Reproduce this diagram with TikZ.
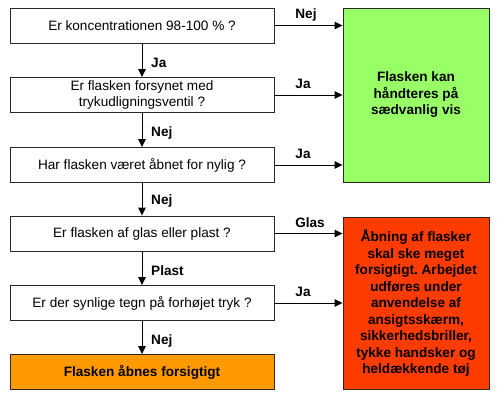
\documentclass[tikz,border=0pt]{standalone}
\usepackage{fontspec}
\setmainfont{Liberation Sans}
\usetikzlibrary{arrows.meta}
\definecolor{boxgreen}{RGB}{153,255,102}
\definecolor{boxred}{RGB}{255,60,0}
\definecolor{boxorange}{RGB}{255,153,0}
\definecolor{edge}{RGB}{40,40,40}
\frenchspacing
\begin{document}
\begin{tikzpicture}[x=1pt,y=-1pt,
  every node/.style={font=\fontsize{13.6}{16.5}\selectfont},
  qbox/.style={draw=edge, line width=0.9pt, fill=white, minimum width=264pt, minimum height=35pt, inner sep=0pt, align=center},
  rbox/.style={draw=edge, line width=0.9pt, minimum width=146pt, inner sep=0pt, align=center, font=\fontsize{13.6}{16.5}\selectfont\bfseries},
  arr/.style={line width=0.9pt, draw=black, -{Triangle[length=8pt,width=7.5pt]}},
  lbl/.style={font=\fontsize{13.6}{16.5}\selectfont\bfseries, inner sep=0pt}
]
\useasboundingbox (0,0) rectangle (498,401);
\node[qbox] (b1) at (142,25.5) {Er koncentrationen 98-100 \% ?};
\node[qbox] (b2) at (142,95) {Er flasken forsynet med\\trykudligningsventil ?};
\node[qbox] (b3) at (142,165) {Har flasken været åbnet for nylig ?};
\node[qbox] (b4) at (142,233.5) {Er flasken af glas eller plast ?};
\node[qbox] (b5) at (142,303) {Er der synlige tegn på forhøjet tryk ?};
\node[qbox, fill=boxorange, font=\fontsize{13.6}{16.5}\selectfont\bfseries] (b6) at (142,372) {Flasken åbnes forsigtigt};
\node[rbox, fill=boxgreen, minimum height=174pt] (g) at (416,95) {Flasken kan\\håndteres på\\sædvanlig vis};
\node[rbox, fill=boxred, minimum height=172pt] (r) at (416,303) {Åbning af flasker\\skal ske meget\\forsigtigt. Arbejdet\\udføres under\\anvendelse af\\ansigtsskærm,\\sikkerhedsbriller,\\tykke handsker og\\heldækkende tøj};

\draw[arr] (b1) -- (b2);
\draw[arr] (b2) -- (b3);
\draw[arr] (b3) -- (b4);
\draw[arr] (b4) -- (b5);
\draw[arr] (b5) -- (b6);
\draw[arr] (b1.east) -- (b1.east -| g.west);
\draw[arr] (b2.east) -- (b2.east -| g.west);
\draw[arr] (b3.east) -- (b3.east -| g.west);
\draw[arr] (b4.east) -- (b4.east -| r.west);
\draw[arr] (b5.east) -- (b5.east -| r.west);

\node[lbl, anchor=west] (l12) at (151,63) {Ja};
\node[lbl, anchor=west] (l23) at (151,133) {Nej};
\node[lbl, anchor=west] (l34) at (151,201) {Nej};
\node[lbl, anchor=west] (l45) at (151,271) {Plast};
\node[lbl, anchor=west] (l56) at (151,341) {Nej};
\node[lbl] (h1) at (306,15) {Nej};
\node[lbl] (h2) at (303,84) {Ja};
\node[lbl] (h3) at (303,154) {Ja};
\node[lbl] (h4) at (310,223) {Glas};
\node[lbl] (h5) at (303,292) {Ja};
\end{tikzpicture}
\end{document}
